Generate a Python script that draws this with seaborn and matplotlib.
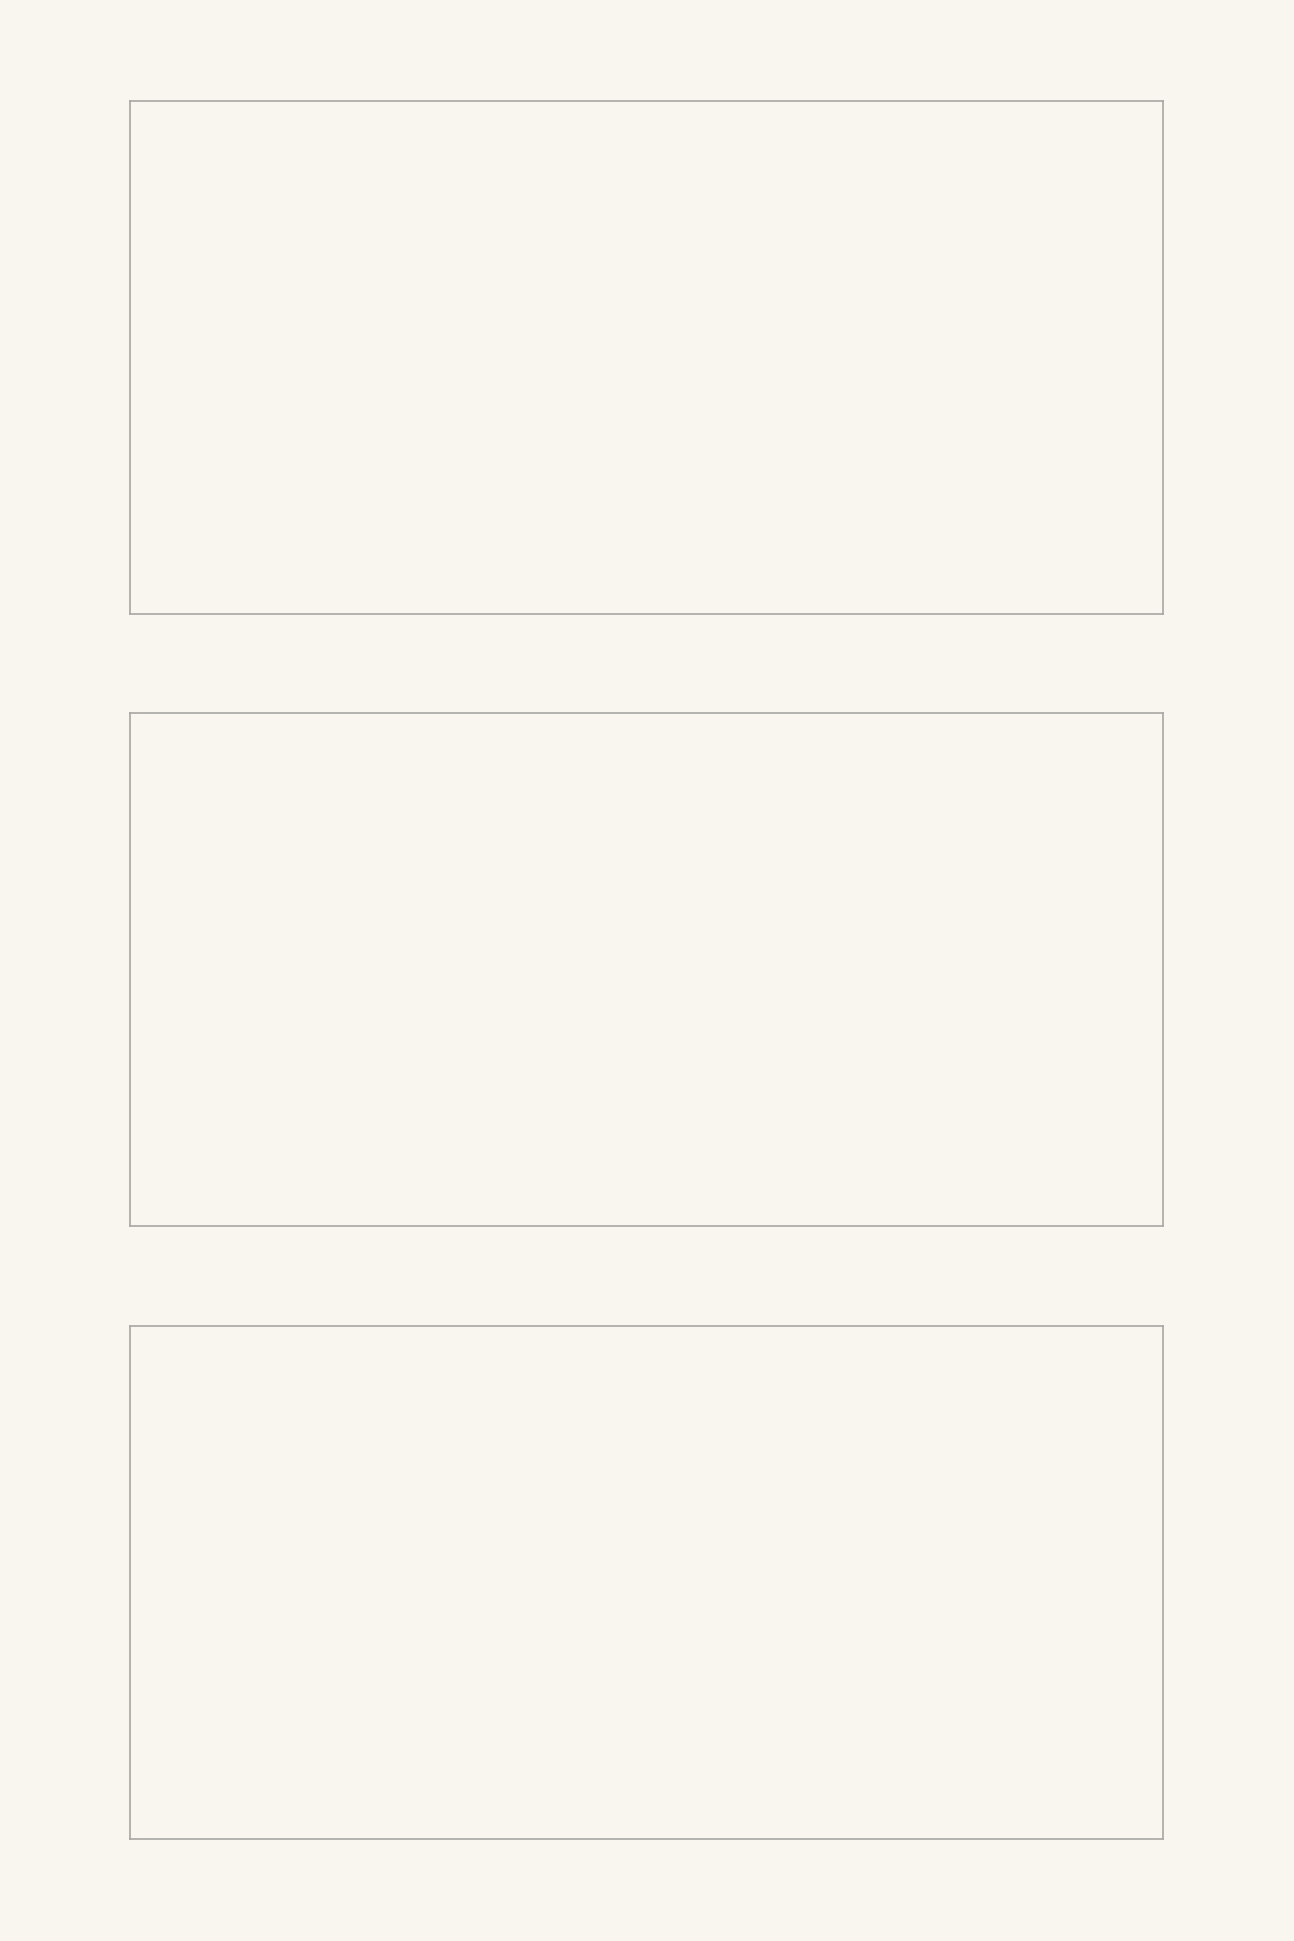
import matplotlib
matplotlib.use("Agg")
import matplotlib.pyplot as plt
import seaborn as sns
import pandas as pd

# The reference shows three empty panels (no marks, ticks or text).
panel_names = ["panel_1", "panel_2", "panel_3"]
x_values = []
y_values = []

bg = "#f9f6f0"
edge = "#a8a6a3"

sns.set_theme(style="white", rc={
    "figure.facecolor": bg,
    "axes.facecolor": bg,
    "axes.edgecolor": edge,
    "savefig.facecolor": bg,
})
plt.rcParams["font.family"] = ["DejaVu Sans"]

fig = plt.figure(figsize=(12.94, 19.41), dpi=100)
W, H = 1294, 1941
left, right = 130, 1163
tops = [100.5, 713, 1326]
height = 513

for name, top in zip(panel_names, tops):
    ax = fig.add_axes([left / W, (H - top - height) / H, (right - left) / W, height / H])
    df = pd.DataFrame({"x": pd.Series(x_values, dtype=float), "y": pd.Series(y_values, dtype=float)})
    sns.lineplot(data=df, x="x", y="y", ax=ax)
    ax.set_xticks([])
    ax.set_yticks([])
    ax.set_xlabel("")
    ax.set_ylabel("")
    for s in ax.spines.values():
        s.set_visible(True)
        s.set_color(edge)
        s.set_linewidth(1.2)

fig.savefig("out.png", dpi=100, facecolor=bg)
